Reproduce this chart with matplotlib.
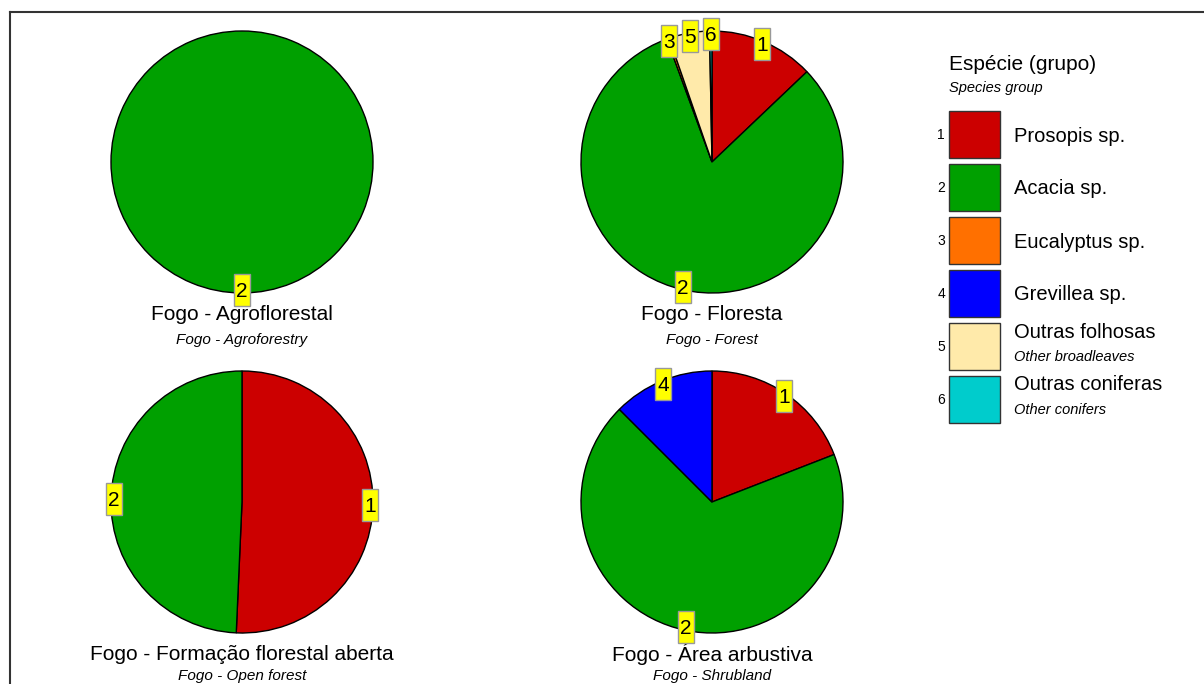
import matplotlib
matplotlib.use('Agg')
import matplotlib.pyplot as plt
from matplotlib.patches import Rectangle
import numpy as np

plt.rcParams['font.family'] = ['Liberation Sans', 'DejaVu Sans']

# data: share (%) of each species group per land use, island of Fogo
group_ids = [1, 2, 3, 4, 5, 6]
group_names = ['Prosopis sp.', 'Acacia sp.', 'Eucalyptus sp.', 'Grevillea sp.',
               'Outras folhosas', 'Outras coniferas']
group_names_en = ['', '', '', '', 'Other broadleaves', 'Other conifers']
group_colors = ['#CC0000', '#00A000', '#FF7000', '#0000FF', '#FFEAAA', '#00CCCC']

titles = ['Fogo - Agroflorestal', 'Fogo - Floresta',
          'Fogo - Formação florestal aberta', 'Fogo - Área arbustiva']
titles_en = ['Fogo - Agroforestry', 'Fogo - Forest',
             'Fogo - Open forest', 'Fogo - Shrubland']

share_agro = [0, 100, 0, 0, 0, 0]
share_floresta = [12.9, 81.5, 0.3, 0, 5.0, 0.3]
share_aberta = [50.7, 49.3, 0, 0, 0, 0]
share_arbustiva = [19.1, 68.4, 0, 12.5, 0, 0]
shares = [share_agro, share_floresta, share_aberta, share_arbustiva]

# a. canvas in pixel units
W, H = 1204, 684
fig = plt.figure(figsize=(W / 100, H / 100), dpi=100)
ax = fig.add_axes([0, 0, 1, 1])

def Y(y):
    """pixel row (top origin) to axis y"""
    return H - y

R = 131
centers = [(242, 162), (712, 162), (242, 502), (712, 502)]

# b. pies with numbered yellow tags
for (cx, cy), vals, t, t_en in zip(centers, shares, titles, titles_en):
    idx = [i for i, v in enumerate(vals) if v > 0]
    wedges, _ = ax.pie([vals[i] for i in idx], colors=[group_colors[i] for i in idx],
                       center=(cx, Y(cy)), radius=R, startangle=90, counterclock=False,
                       wedgeprops=dict(edgecolor='black', linewidth=1))
    for w, i in zip(wedges, idx):
        mid = np.deg2rad((w.theta1 + w.theta2) / 2)
        lx = cx + 128 * np.cos(mid)
        ly = Y(cy) + 128 * np.sin(mid)
        ax.add_patch(Rectangle((lx - 8, ly - 16), 16, 32, facecolor='#FFFF00',
                               edgecolor='#999999', linewidth=1, zorder=5))
        ax.text(lx, ly - 7, str(group_ids[i]), ha='center', va='baseline',
                fontsize=15, zorder=6)
    top_row = cy < 300
    ax.text(cx, Y(314 if top_row else 654), t, ha='center', va='center', fontsize=15)
    ax.text(cx, Y(340 if top_row else 676), t_en, ha='center', va='center',
            fontsize=11, style='italic')

# c. legend
ax.text(949, Y(64), 'Espécie (grupo)', ha='left', va='center', fontsize=15)
ax.text(949, Y(88), 'Species group', ha='left', va='center', fontsize=10.5, style='italic')
for k, (gid, name, name_en, col) in enumerate(zip(group_ids, group_names,
                                                  group_names_en, group_colors)):
    top = 111 + 53 * k
    ax.add_patch(Rectangle((949, Y(top + 47)), 51, 47, facecolor=col,
                           edgecolor='#333333', linewidth=1))
    ax.text(945, Y(top + 24), str(gid), ha='right', va='center', fontsize=10)
    if name_en:
        ax.text(1014, Y(top + 9), name, ha='left', va='center', fontsize=14.5)
        ax.text(1014, Y(top + 34), name_en, ha='left', va='center', fontsize=10.5,
                style='italic')
    else:
        ax.text(1014, Y(top + 25), name, ha='left', va='center', fontsize=14.5)

# d. frame
ax.plot([10, W], [Y(12), Y(12)], color='#333333', linewidth=1.5)
ax.plot([10, 10], [Y(12), 0], color='#333333', linewidth=1.5)

ax.set_xlim(0, W)
ax.set_ylim(0, H)
ax.set_aspect('auto')
ax.axis('off')

fig.savefig('out.png', dpi=100)
